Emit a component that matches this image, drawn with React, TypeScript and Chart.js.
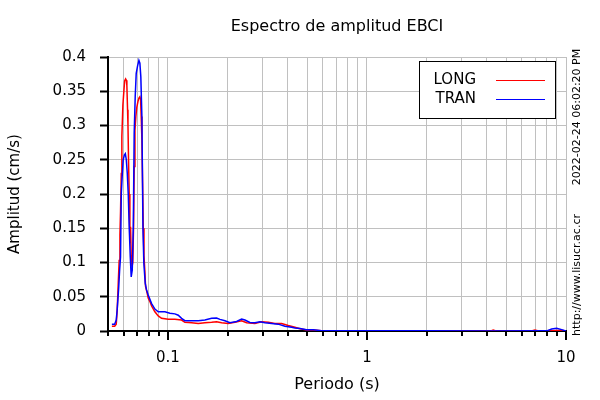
import React, { useEffect, useRef } from "react";
import { Chart, registerables } from "chart.js";

Chart.register(...registerables);

const titleText = "Espectro de amplitud EBCI";
const xAxisTitle = "Periodo (s)";
const yAxisTitle = "Amplitud (cm/s)";
const stampText = "2022-02-24 06:02:20 PM";
const urlText = "http://www.lisucr.ac.cr";
const seriesNames = ["LONG", "TRAN"];
const seriesColors = ["#ff0000", "#0000ff"];

const longPeriods = [
  0.0523, 0.054, 0.055, 0.0556, 0.0563, 0.0569, 0.0574, 0.0578, 0.0583, 0.0587,
  0.0594, 0.06, 0.0606, 0.0613, 0.0618, 0.0622, 0.0627, 0.063, 0.0634, 0.0639,
  0.0644, 0.0649, 0.0654, 0.066, 0.0666, 0.0672, 0.0677, 0.0683, 0.069, 0.0698,
  0.0707, 0.0715, 0.0723, 0.0729, 0.0734, 0.074, 0.0746, 0.0752, 0.0758, 0.0765,
  0.0772, 0.0787, 0.0796, 0.0812, 0.0828, 0.086, 0.0894, 0.0929, 0.1004, 0.1084,
  0.1171, 0.1217, 0.1315, 0.1421, 0.1534, 0.1658, 0.1756, 0.1861, 0.201, 0.2171,
  0.2346, 0.2485, 0.2736, 0.2956, 0.3192, 0.3448, 0.3725, 0.4024, 0.4346, 0.4606,
  0.4975, 0.5374, 0.5918, 0.7, 0.85, 1.0, 1.5, 2.0, 3.0, 4.2,
  4.31, 4.45, 6.7, 6.98, 7.3, 8.5, 9.5, 10,
];
const longAmp = [
  0.007, 0.007, 0.01, 0.03, 0.07, 0.103, 0.14, 0.174, 0.23, 0.284,
  0.33, 0.348, 0.365, 0.368, 0.366, 0.358, 0.323, 0.3, 0.25, 0.2,
  0.128, 0.152, 0.11, 0.094, 0.1, 0.152, 0.24, 0.293, 0.313, 0.327,
  0.335, 0.34, 0.342, 0.338, 0.313, 0.28, 0.216, 0.15, 0.11, 0.09,
  0.065, 0.055, 0.048, 0.043, 0.0365, 0.028, 0.022, 0.0185, 0.017, 0.017,
  0.016, 0.0127, 0.012, 0.011, 0.012, 0.0127, 0.0136, 0.012, 0.011, 0.0127,
  0.015, 0.012, 0.011, 0.0136, 0.0127, 0.011, 0.011, 0.008, 0.0055, 0.0034,
  0.0015, 0.0015, 0.0005, 0.0003, 0.0002, 0.0002, 0.0002, 0.0001, 0.0001, 0.0001,
  0.0015, 0.0001, 0.0001, 0.0015, 0.0001, 0.0005, 0.001, 0.0,
];

const tranPeriods = [
  0.0523, 0.054, 0.055, 0.0556, 0.0565, 0.0572, 0.0578, 0.0583, 0.0589, 0.0596,
  0.0604, 0.0611, 0.0618, 0.0625, 0.0632, 0.0639, 0.0647, 0.0654, 0.0662, 0.067,
  0.0677, 0.0685, 0.0693, 0.0704, 0.0715, 0.0723, 0.0731, 0.074, 0.0749, 0.0757,
  0.0769, 0.0781, 0.0796, 0.0828, 0.086, 0.0894, 0.0966, 0.1023, 0.1084, 0.1127,
  0.1171, 0.1217, 0.1315, 0.1421, 0.1534, 0.1658, 0.1756, 0.1825, 0.1934, 0.2049,
  0.2214, 0.2346, 0.2437, 0.2582, 0.2736, 0.2899, 0.3072, 0.3319, 0.3584, 0.3872,
  0.4182, 0.4346, 0.4606, 0.4975, 0.5374, 0.5918, 0.8, 1.2, 2.0, 4.0,
  8.0, 8.47, 8.98, 9.51, 10,
];
const tranAmp = [
  0.01, 0.01, 0.016, 0.031, 0.06, 0.089, 0.108, 0.2, 0.225, 0.25,
  0.257, 0.259, 0.25, 0.23, 0.2, 0.152, 0.108, 0.079, 0.089, 0.152,
  0.289, 0.342, 0.376, 0.387, 0.395, 0.391, 0.371, 0.313, 0.152, 0.099,
  0.07, 0.06, 0.0526, 0.04, 0.032, 0.028, 0.028, 0.026, 0.025, 0.023,
  0.0185, 0.015, 0.015, 0.015, 0.016, 0.0185, 0.019, 0.017, 0.015, 0.012,
  0.014, 0.0175, 0.016, 0.0125, 0.012, 0.0136, 0.012, 0.011, 0.01, 0.007,
  0.0054, 0.0045, 0.0035, 0.002, 0.0017, 0.0005, 0.0003, 0.0002, 0.0002, 0.0001,
  0.0002, 0.003, 0.004, 0.002, 0.0,
];

const xTickValues = [
  0.05, 0.06, 0.07, 0.08, 0.09, 0.1, 0.2, 0.3, 0.4, 0.5, 0.6, 0.7, 0.8, 0.9,
  1, 2, 3, 4, 5, 6, 7, 8, 9, 10,
];
const xMajorTicks = [0.1, 1, 10];
const xLabels = ["0.1", "1", "10"];

const FONT = "'DejaVu Sans', sans-serif";

const overlayPlugin = {
  id: "overlay",
  afterDraw(chart: any) {
    const ctx = chart.ctx;
    const area = chart.chartArea;
    const xs = chart.scales.x;
    ctx.save();
    // x tick marks
    ctx.strokeStyle = "#000";
    ctx.lineWidth = 2;
    for (const v of xTickValues) {
      const px = Math.round(xs.getPixelForValue(v));
      const len = xMajorTicks.includes(v) ? 9 : 5;
      ctx.beginPath();
      ctx.moveTo(px, area.bottom);
      ctx.lineTo(px, area.bottom + len);
      ctx.stroke();
    }
    ctx.fillStyle = "#000";
    // title
    ctx.font = `16px ${FONT}`;
    ctx.textAlign = "center";
    ctx.textBaseline = "middle";
    ctx.fillText(titleText, (area.left + area.right) / 2, 27);
    // x axis title
    ctx.fillText(xAxisTitle, (area.left + area.right) / 2, 385);
    // y axis title
    ctx.save();
    ctx.translate(15, (area.top + area.bottom) / 2);
    ctx.rotate(-Math.PI / 2);
    ctx.font = `15px ${FONT}`;
    ctx.fillText(yAxisTitle, 0, 0);
    ctx.restore();
    // right side texts
    ctx.font = `11px ${FONT}`;
    ctx.save();
    ctx.translate(577, 117);
    ctx.rotate(-Math.PI / 2);
    ctx.fillText(stampText, 0, 0);
    ctx.restore();
    ctx.save();
    ctx.translate(577, 275);
    ctx.rotate(-Math.PI / 2);
    ctx.fillText(urlText, 0, 0);
    ctx.restore();
    // legend
    ctx.fillStyle = "#fff";
    ctx.fillRect(419.5, 61.5, 136, 57);
    ctx.strokeStyle = "#000";
    ctx.lineWidth = 1;
    ctx.strokeRect(419.5, 61.5, 136, 57);
    ctx.font = `15px ${FONT}`;
    ctx.textAlign = "right";
    const rows = [80, 99];
    seriesNames.forEach((name, i) => {
      ctx.fillStyle = "#000";
      ctx.fillText(name, 476, rows[i]);
      ctx.strokeStyle = seriesColors[i];
      ctx.lineWidth = 1;
      ctx.beginPath();
      ctx.moveTo(496, rows[i] + 0.5);
      ctx.lineTo(545, rows[i] + 0.5);
      ctx.stroke();
    });
    ctx.restore();
  },
};

export default function App() {
  const canvasRef = useRef<HTMLCanvasElement | null>(null);

  useEffect(() => {
    if (!canvasRef.current) return;
    Chart.defaults.font.family = FONT;
    Chart.defaults.color = "#000";
    const chart = new Chart(canvasRef.current, {
      type: "line",
      data: {
        datasets: [
          {
            label: seriesNames[0],
            data: longPeriods.map((p, i) => ({ x: p, y: longAmp[i] })),
            borderColor: seriesColors[0],
            borderWidth: 1.5,
            pointRadius: 0,
            fill: false,
            tension: 0,
            order: 1,
          },
          {
            label: seriesNames[1],
            data: tranPeriods.map((p, i) => ({ x: p, y: tranAmp[i] })),
            borderColor: seriesColors[1],
            borderWidth: 1.5,
            pointRadius: 0,
            fill: false,
            tension: 0,
            order: 0,
          },
        ],
      },
      options: {
        responsive: false,
        animation: false,
        devicePixelRatio: 1,
        layout: { padding: { top: 57, right: 34, left: 0, bottom: 0 } },
        plugins: {
          legend: { display: false },
          title: { display: false },
          tooltip: { enabled: false },
        },
        scales: {
          x: {
            type: "logarithmic",
            min: 0.05,
            max: 10,
            afterBuildTicks: (scale: any) => {
              scale.ticks = xTickValues.map((v) => ({ value: v }));
            },
            afterFit: (scale: any) => {
              scale.height = 69;
            },
            grid: {
              color: "#c0c0c0",
              lineWidth: 1,
              drawTicks: true,
              tickLength: 6,
              tickColor: "rgba(0,0,0,0)",
            },
            border: { color: "#000", width: 2 },
            ticks: {
              autoSkip: false,
              maxRotation: 0,
              minRotation: 0,
              padding: 12,
              font: { size: 15 },
              callback: (value: any) => {
                const idx = xMajorTicks.indexOf(Number(value));
                return idx >= 0 ? xLabels[idx] : "";
              },
            },
          },
          y: {
            type: "linear",
            min: 0,
            max: 0.4,
            afterFit: (scale: any) => {
              scale.width = 108;
            },
            grid: {
              color: "#c0c0c0",
              lineWidth: 1,
              drawTicks: true,
              tickLength: 8,
              tickColor: "#000",
              tickWidth: 2,
            },
            border: { color: "#000", width: 2 },
            ticks: {
              stepSize: 0.05,
              padding: 14,
              font: { size: 15 },
              callback: (value: any) => String(Number(Number(value).toFixed(2))),
            },
          },
        },
      },
      plugins: [overlayPlugin],
    });
    return () => chart.destroy();
  }, []);

  return (
    <div style={{ position: "fixed", left: 0, top: 0, width: 600, height: 400, background: "#fff" }}>
      <canvas ref={canvasRef} width={600} height={400} style={{ width: 600, height: 400 }} />
    </div>
  );
}
